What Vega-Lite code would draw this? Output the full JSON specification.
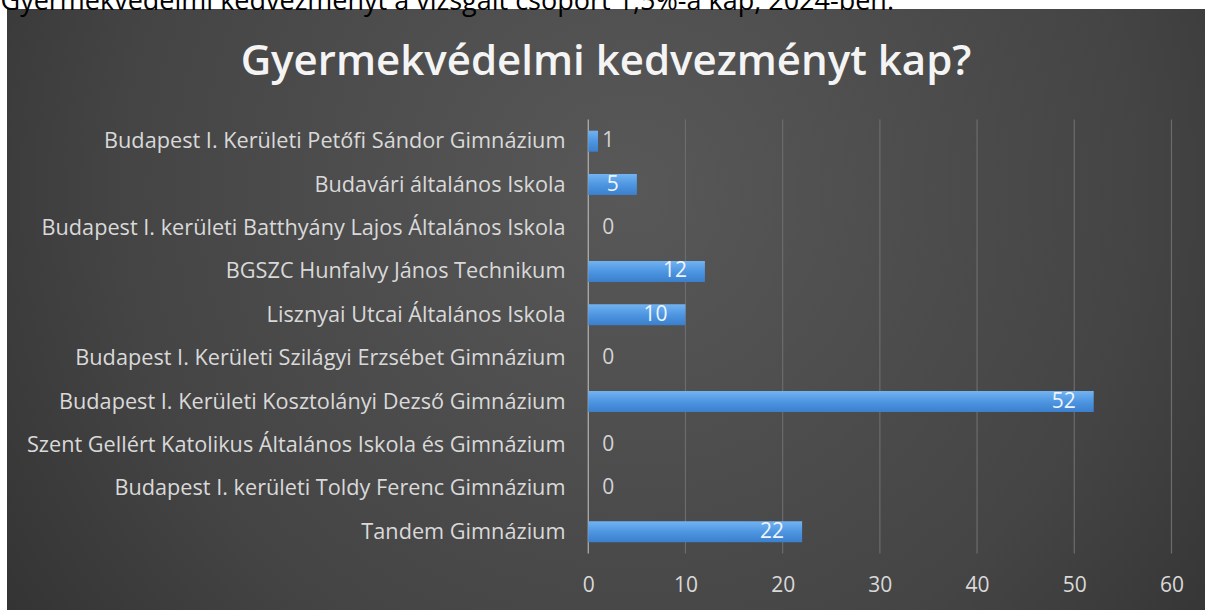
{
  "$schema": "https://vega.github.io/schema/vega-lite/v6.json",
  "width": 1198,
  "height": 601,
  "autosize": "none",
  "padding": {"left": 7, "top": 9, "right": 0, "bottom": 0},
  "background": "white",
  "config": {"view": {"stroke": null}, "font": "Open Sans"},
  "title": {
    "text": "Gyermekvédelmi kedvezményt kap?",
    "anchor": "middle",
    "frame": "group",
    "orient": "top",
    "baseline": "alphabetic",
    "offset": -130,
    "fontSize": 42,
    "fontWeight": 600,
    "font": "Open Sans",
    "color": "#f4f4f4",
    "zindex": 1
  },
  "datasets": {
    "schools": [
      {"school": "Budapest I. Kerületi Petőfi Sándor Gimnázium", "value": 1},
      {"school": "Budavári általános Iskola", "value": 5},
      {"school": "Budapest I. kerületi Batthyány Lajos Általános Iskola", "value": 0},
      {"school": "BGSZC Hunfalvy János Technikum", "value": 12},
      {"school": "Lisznyai Utcai Általános Iskola", "value": 10},
      {"school": "Budapest I. Kerületi Szilágyi Erzsébet Gimnázium", "value": 0},
      {"school": "Budapest I. Kerületi Kosztolányi Dezső Gimnázium", "value": 52},
      {"school": "Szent Gellért Katolikus Általános Iskola és Gimnázium", "value": 0},
      {"school": "Budapest I. kerületi Toldy Ferenc Gimnázium", "value": 0},
      {"school": "Tandem Gimnázium", "value": 22}
    ],
    "grid": [{"g": 0}, {"g": 10}, {"g": 20}, {"g": 30}, {"g": 40}, {"g": 50}, {"g": 60}]
  },
  "layer": [
    {
      "data": {"values": [{}]},
      "mark": {
        "type": "rect",
        "color": {
          "gradient": "radial",
          "x1": 0.52, "y1": 0.4, "r1": 0,
          "x2": 0.52, "y2": 0.4, "r2": 0.78,
          "stops": [
            {"offset": 0, "color": "#585858"},
            {"offset": 0.55, "color": "#444444"},
            {"offset": 1, "color": "#272727"}
          ]
        }
      },
      "encoding": {}
    },
    {
      "data": {"name": "grid"},
      "mark": {"type": "rule", "strokeWidth": 1.2},
      "encoding": {
        "x": {
          "field": "g", "type": "quantitative",
          "scale": {"domain": [-59.8, 63.45], "nice": false, "zero": false},
          "axis": {
            "values": [0, 10, 20, 30, 40, 50, 60],
            "orient": "bottom",
            "offset": -36,
            "zindex": 1,
            "grid": false, "domain": false, "ticks": false, "tickSize": 0,
            "labelPadding": 0,
            "labelFontSize": 21,
            "labelColor": "#d9d9d9",
            "labelFont": "Open Sans",
            "title": "Gyermekvédelmi kedvezményt a vizsgált csoport 1,5%-a kap, 2024-ben.",
            "titleX": -7,
            "titleY": -565,
            "titleAlign": "left",
            "titleAnchor": "start",
            "titleBaseline": "alphabetic",
            "titleFontSize": 27,
            "titleFontWeight": "normal",
            "titleFont": "Open Sans",
            "titleColor": "#000000"
          }
        },
        "y": {
          "datum": "Budapest I. Kerületi Petőfi Sándor Gimnázium",
          "type": "nominal",
          "bandPosition": 0
        },
        "y2": {"datum": "Tandem Gimnázium", "bandPosition": 1},
        "color": {
          "condition": {"test": "datum.g === 0", "value": "#b4b4b4"},
          "value": "#6c6c6c"
        }
      }
    },
    {
      "data": {"name": "schools"},
      "mark": {
        "type": "bar",
        "height": {"band": 0.484},
        "color": {
          "gradient": "linear",
          "x1": 0, "y1": 0, "x2": 0, "y2": 1,
          "stops": [
            {"offset": 0, "color": "#72b3f1"},
            {"offset": 0.5, "color": "#4e96e2"},
            {"offset": 1, "color": "#3a7fcb"}
          ]
        }
      },
      "encoding": {
        "y": {
          "field": "school",
          "type": "nominal",
          "sort": null,
          "scale": {
            "domain": [
              "Budapest I. Kerületi Petőfi Sándor Gimnázium",
              "Budavári általános Iskola",
              "Budapest I. kerületi Batthyány Lajos Általános Iskola",
              "BGSZC Hunfalvy János Technikum",
              "Lisznyai Utcai Általános Iskola",
              "Budapest I. Kerületi Szilágyi Erzsébet Gimnázium",
              "Budapest I. Kerületi Kosztolányi Dezső Gimnázium",
              "Szent Gellért Katolikus Általános Iskola és Gimnázium",
              "Budapest I. kerületi Toldy Ferenc Gimnázium",
              "Tandem Gimnázium"
            ],
            "range": [110.5, 544.5],
            "paddingInner": 0,
            "paddingOuter": 0
          },
          "axis": {
            "orient": "left",
            "offset": -558,
            "zindex": 1,
            "title": null,
            "domain": false, "ticks": false, "tickSize": 0, "grid": false,
            "labelPadding": 0,
            "labelLimit": 0,
            "labelFontSize": 21.7,
            "labelColor": "#d9d9d9",
            "labelFont": "Open Sans"
          }
        },
        "x": {"field": "value", "type": "quantitative"},
        "x2": {"datum": 0}
      }
    },
    {
      "data": {"name": "schools"},
      "transform": [{"filter": "datum.value >= 3"}],
      "mark": {"type": "text", "align": "right", "baseline": "middle", "dx": -18, "fontSize": 21, "color": "#eef4fb", "font": "Open Sans"},
      "encoding": {
        "y": {"field": "school", "type": "nominal", "sort": null},
        "x": {"field": "value", "type": "quantitative"},
        "text": {"field": "value", "type": "quantitative"}
      }
    },
    {
      "data": {"name": "schools"},
      "transform": [{"filter": "datum.value < 3"}],
      "mark": {"type": "text", "align": "left", "baseline": "middle", "dx": 14, "fontSize": 21, "color": "#d4d4d4", "font": "Open Sans"},
      "encoding": {
        "y": {"field": "school", "type": "nominal", "sort": null},
        "x": {"datum": 0},
        "text": {"field": "value", "type": "quantitative"}
      }
    }
  ]
}
